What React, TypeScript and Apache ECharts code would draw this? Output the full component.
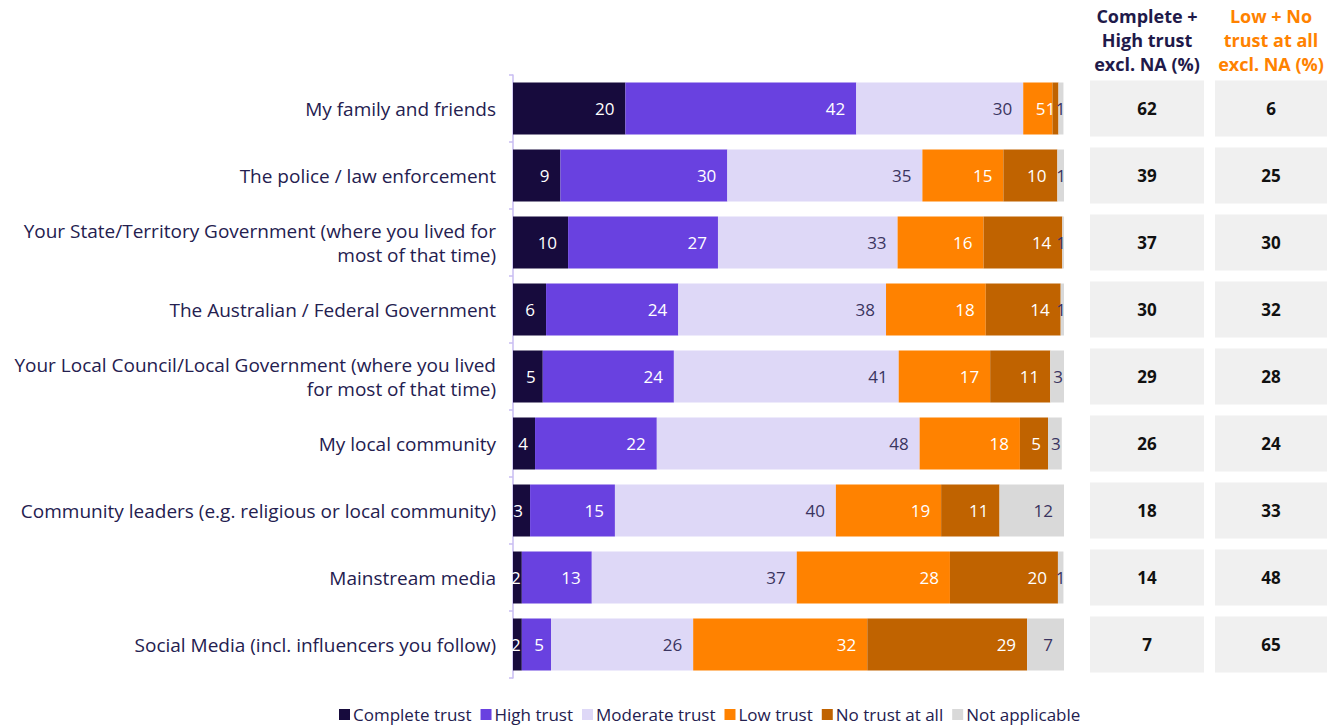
import React, { useEffect, useRef } from "react";
import * as echarts from "echarts";

const categories = [
  "My family and friends",
  "The police / law enforcement",
  "Your State/Territory Government (where you lived for\nmost of that time)",
  "The Australian / Federal Government",
  "Your Local Council/Local Government (where you lived\nfor most of that time)",
  "My local community",
  "Community leaders (e.g. religious or local community)",
  "Mainstream media",
  "Social Media (incl. influencers you follow)",
];

const seriesNames = ["Complete trust", "High trust", "Moderate trust", "Low trust", "No trust at all", "Not applicable"];
const complete = [20.4, 8.6, 10.0, 6.0, 5.4, 4.0, 3.1, 1.6, 1.6];
const high = [41.9, 30.3, 27.2, 24.0, 23.8, 22.1, 15.4, 12.7, 5.3];
const moderate = [30.3, 35.4, 32.6, 37.7, 40.8, 47.7, 40.1, 37.2, 25.8];
const low = [5.3, 14.7, 15.6, 18.1, 16.6, 18.2, 19.1, 27.8, 31.6];
const noTrust = [1.1, 9.8, 14.3, 13.6, 10.9, 5.1, 10.6, 19.6, 29.0];
const notApplicable = [0.9, 1.3, 0.6, 0.7, 2.6, 2.5, 12.0, 1.0, 6.7];

const completeHighExclNA = [62, 39, 37, 30, 29, 26, 18, 14, 7];
const lowNoExclNA = [6, 25, 30, 32, 28, 24, 33, 48, 65];

const colors = ["#170b3d", "#6941e0", "#ded8f7", "#ff8200", "#c06300", "#d9d9d9"];
const labelColors = ["#ffffff", "#ffffff", "#3a3460", "#ffffff", "#ffffff", "#3a3460"];

export default function App() {
  const ref = useRef<HTMLDivElement>(null);
  useEffect(() => {
    const chart = echarts.init(ref.current!, null, { renderer: "svg" });
    const font = "'Open Sans', 'Noto Sans', sans-serif";
    const top = 75;
    const bottom = 726 - 678;
    const data = [complete, high, moderate, low, noTrust, notApplicable];
    const labelDistance = (v: number, i: number) => {
      if (v < 1.5) return i === 5 ? -2 : 3;
      if (v < 3) return 1;
      if (v < 6) return 7;
      return 11;
    };
    const mainSeries = data.map((vals, i) => ({
      name: seriesNames[i],
      type: "bar",
      stack: "total",
      xAxisIndex: 0,
      yAxisIndex: 0,
      barWidth: 52,
      itemStyle: { color: colors[i] },
      label: {
        show: true,
        position: "insideRight",
        distance: 11,
        color: labelColors[i],
        fontFamily: font,
        fontSize: 17,
        formatter: (p: any) => String(Math.round(p.value)),
      },
      data: vals.map((v) => ({
        value: v,
        label: { distance: labelDistance(v, i) },
      })),
    }));
    const tableSeries = [completeHighExclNA, lowNoExclNA].map((vals, k) => ({
      type: "bar",
      xAxisIndex: k + 1,
      yAxisIndex: k + 1,
      barWidth: 56,
      silent: true,
      itemStyle: { color: "#f0f0f0" },
      label: {
        show: true,
        position: "inside",
        color: "#111111",
        fontWeight: "bold",
        fontFamily: font,
        fontSize: 17,
        formatter: (p: any) => String(vals[p.dataIndex]),
      },
      data: vals.map(() => 1),
    }));
    const hiddenY = (gi: number) => ({
      type: "category",
      gridIndex: gi,
      inverse: true,
      data: categories,
      show: false,
    });
    const hiddenX = (gi: number) => ({ type: "value", gridIndex: gi, min: 0, max: 1, show: false });
    const headerStyle = (color: string) => ({
      fill: color,
      font: `bold 18px ${font}`,
      textAlign: "center",
      textVerticalAlign: "top",
      lineHeight: 24,
    });
    chart.setOption({
      animation: false,
      backgroundColor: "#ffffff",
      grid: [
        { left: 513, right: 275, top, bottom },
        { left: 1090, width: 114, top, bottom },
        { left: 1215, width: 112, top, bottom },
      ],
      xAxis: [
        { type: "value", gridIndex: 0, min: 0, max: 100, show: false },
        hiddenX(1),
        hiddenX(2),
      ],
      yAxis: [
        {
          type: "category",
          gridIndex: 0,
          inverse: true,
          data: categories,
          axisLine: { show: true, lineStyle: { color: "#c8bdf2", width: 1.5 } },
          axisTick: { show: true, length: 4, lineStyle: { color: "#c8bdf2", width: 1.5 } },
          axisLabel: {
            color: "#24204f",
            fontFamily: font,
            fontSize: 19,
            lineHeight: 24,
            align: "right",
            margin: 17,
          },
        },
        hiddenY(1),
        hiddenY(2),
      ],
      legend: {
        left: 339,
        top: 706,
        padding: 0,
        itemWidth: 11,
        itemHeight: 11,
        itemGap: 9,
        icon: "rect",
        data: seriesNames,
        textStyle: { color: "#24204f", fontFamily: font, fontSize: 17, padding: [0, 0, 0, -2] },
      },
      graphic: [
        {
          type: "text",
          x: 1147,
          y: 4,
          style: { ...headerStyle("#1f1a4a"), text: "Complete +\nHigh trust\nexcl. NA (%)" },
        },
        {
          type: "text",
          x: 1271,
          y: 4,
          style: { ...headerStyle("#ff8200"), text: "Low + No\ntrust at all\nexcl. NA (%)" },
        },
      ],
      series: [...mainSeries, ...tableSeries],
    });
    return () => chart.dispose();
  }, []);
  return (
    <div
      ref={ref}
      style={{ position: "fixed", left: 0, top: 0, width: 1339, height: 726 }}
    />
  );
}
